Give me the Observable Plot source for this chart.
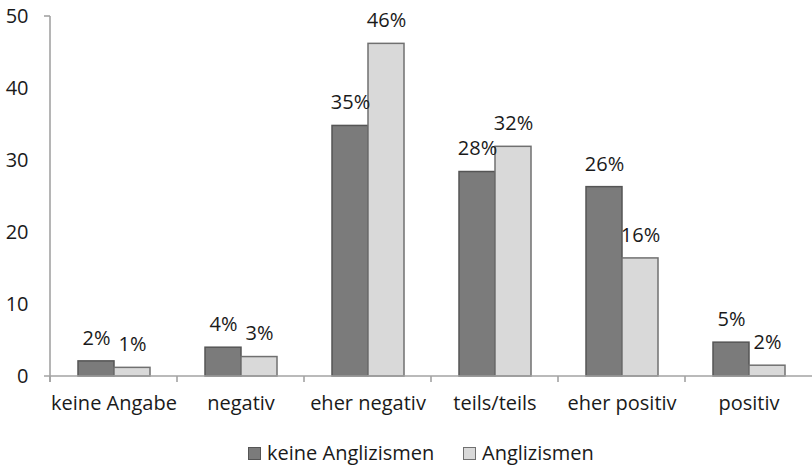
<!DOCTYPE html>
<html><head><meta charset="utf-8">
<script src="https://cdn.jsdelivr.net/npm/d3@7"></script>
<script src="https://cdn.jsdelivr.net/npm/@observablehq/plot@0.6"></script>
<style>
body{margin:0;background:#fff;font-family:"Open Sans",sans-serif;color:#1a1a1a;}
#legend{position:relative;height:30px;margin-top:4px;font-size:20px;line-height:26px;}
#legend .item{position:absolute;top:0;display:flex;align-items:center;height:26px;}
#legend .sw{width:11px;height:11px;margin-right:6px;border:1px solid #555;}
</style></head><body><div id="chart"></div><div id="legend"></div>
<script>
const categories = ["keine Angabe","negativ","eher negativ","teils/teils","eher positiv","positiv"];
const series = ["keine Anglizismen","Anglizismen"];
const keineAnglizismen = [2.1, 4.0, 34.8, 28.4, 26.3, 4.7];
const anglizismen = [1.2, 2.7, 46.2, 31.9, 16.4, 1.5];
const yTicks = [0, 10, 20, 30, 40, 50];
const fills = ["#7b7b7b", "#d9d9d9"];
const strokes = ["#555555", "#707070"];

const data = categories.flatMap((c, i) => [
  {category: c, series: series[0], value: keineAnglizismen[i]},
  {category: c, series: series[1], value: anglizismen[i]}
]);

const W = 812, H = 436, mL = 49, mT = 16, mB = 60, mR = 0;
const plot = Plot.plot({
  width: W, height: H, marginLeft: mL, marginRight: mR, marginTop: mT, marginBottom: mB,
  style: {fontFamily: "Open Sans", fontSize: "20px", color: "#1a1a1a", background: "#fff"},
  fx: {domain: categories, padding: 0, label: null},
  x: {domain: series, paddingInner: 0, paddingOuter: 0.752, axis: null},
  y: {domain: [0, 50], label: null},
  marks: [
    Plot.axisY({ticks: yTicks, tickSize: 0, tickPadding: 22, label: null, fontSize: 20}),
    Plot.axisFx({anchor: "bottom", tickSize: 0, tickPadding: 19, label: null, fontSize: 20}),
    ...series.map((s, k) => Plot.barY(data.filter(d => d.series === s), {
      fx: "category", x: "series", y: "value", fill: fills[k], stroke: strokes[k], strokeWidth: 1.5
    })),
    Plot.text(data, {fx: "category", x: "series", y: "value", text: d => Math.round(d.value) + "%",
      dy: -23, fontSize: 20, fill: "#1a1a1a"})
  ]
});
document.getElementById("chart").appendChild(plot);

// axis lines drawn from the plot's own scales
const y = plot.scale("y"), fx = plot.scale("fx");
const svg = d3.select(plot);
const g = svg.append("g").attr("stroke", "#a3a3a3").attr("stroke-width", 1.6).attr("fill", "none");
const y0 = y.apply(0), yTop = y.apply(50);
const x0 = fx.apply(categories[0]);
g.append("line").attr("x1", x0).attr("x2", x0).attr("y1", yTop).attr("y2", y0 + 6);
g.append("line").attr("x1", x0 - 6).attr("x2", x0).attr("y1", yTop).attr("y2", yTop);
g.append("line").attr("x1", x0 - 6).attr("x2", fx.apply(categories[categories.length - 1]) + fx.bandwidth).attr("y1", y0).attr("y2", y0);
categories.forEach(c => {
  const xx = fx.apply(c);
  g.append("line").attr("x1", xx).attr("x2", xx).attr("y1", y0).attr("y2", y0 + 6);
});

// legend
const legend = d3.select("#legend");
const lx = [248, 463];
series.forEach((s, k) => {
  const it = legend.append("div").attr("class", "item").style("left", lx[k] + "px");
  it.append("div").attr("class", "sw").style("background", fills[k]).style("border-color", strokes[k]);
  it.append("span").text(s);
});
</script></body></html>
